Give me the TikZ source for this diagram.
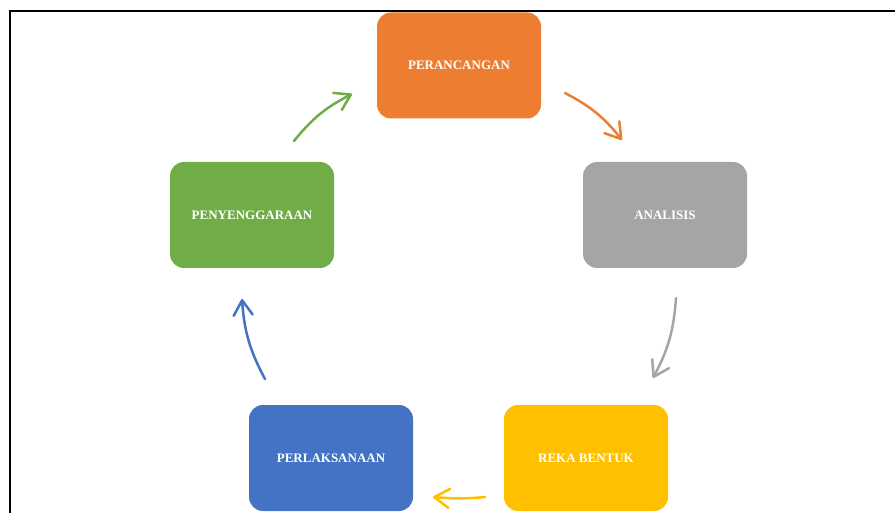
\documentclass[tikz,border=0pt]{standalone}
\usepackage{fontspec}
\setmainfont{Liberation Serif}
\usepackage{tikz}
\usetikzlibrary{arrows.meta}
\definecolor{stageorange}{HTML}{ED7D31}
\definecolor{stagegray}{HTML}{A5A5A5}
\definecolor{stageyellow}{HTML}{FFC000}
\definecolor{stageblue}{HTML}{4472C4}
\definecolor{stagegreen}{HTML}{70AD47}
\tikzstyle{stage}=[rectangle,rounded corners=14pt,minimum width=164pt,minimum height=106pt,inner sep=0pt,text=white,font=\fontsize{13}{15}\selectfont\bfseries]
\tikzstyle{cyclearrow}=[-{Straight Barb[length=15pt,width=19pt,round]},line width=2.5pt,line cap=round]

\begin{document}
\begin{tikzpicture}[x=1pt,y=-1pt]
\useasboundingbox (0,0) rectangle (895,513);
\draw[line width=2pt] (10,513) -- (10,11) -- (895,11);

\node[stage,fill=stageorange] (perancangan) at (459,65.5){PERANCANGAN};
\node[stage,fill=stagegray] (analisis) at (665,215){ANALISIS};
\node[stage,fill=stageyellow] (rekabentuk) at (586,458){REKA BENTUK};
\node[stage,fill=stageblue] (perlaksanaan) at (331,458){PERLAKSANAAN};
\node[stage,fill=stagegreen] (penyenggaraan) at (252,215){PENYENGGARAAN};

% arrow ends
\coordinate (a1) at (565,93);  \coordinate (b1) at (622,140);
\coordinate (a2) at (676,298); \coordinate (b2) at (653,378);
\coordinate (a3) at (485,497); \coordinate (b3) at (433,497);
\coordinate (a4) at (265,379); \coordinate (b4) at (242,299);
\coordinate (a5) at (294,141); \coordinate (b5) at (352,94);

\draw[cyclearrow,stageorange] (a1) to[bend left=12] (b1);
\draw[cyclearrow,stagegray] (a2) to[bend left=12] (b2);
\draw[cyclearrow,stageyellow] (a3) to[bend left=5] (b3);
\draw[cyclearrow,stageblue] (a4) to[bend left=12] (b4);
\draw[cyclearrow,stagegreen] (a5) to[bend left=12] (b5);

\end{tikzpicture}
\end{document}
